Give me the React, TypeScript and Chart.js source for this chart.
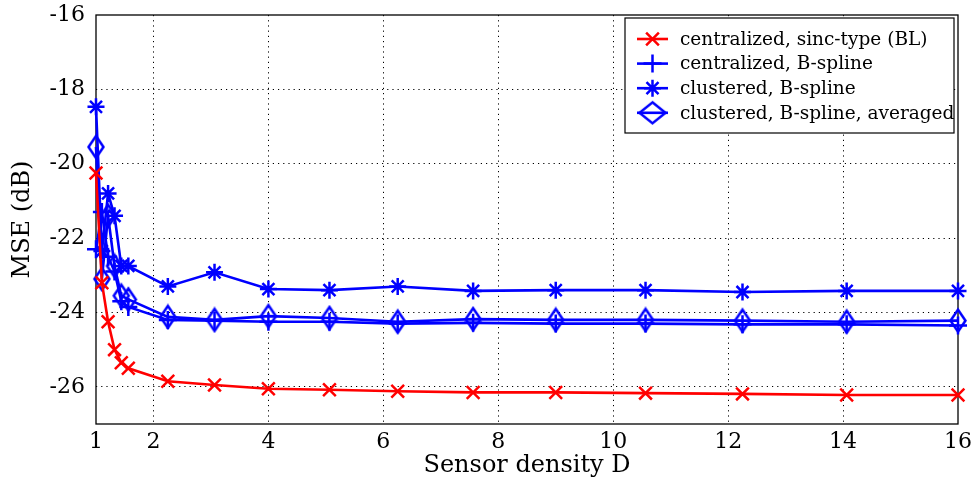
import React, { useEffect, useRef } from 'react';
import { Chart, registerables } from 'chart.js';
import { drawPoint } from 'chart.js/helpers';

Chart.register(...registerables);

// Sensor density D (squares of 1, 1.05, 1.1, ... , 4)
const densities = [1, 1.1025, 1.21, 1.3225, 1.44, 1.5625, 2.25, 3.0625, 4, 5.0625, 6.25, 7.5625, 9, 10.5625, 12.25, 14.0625, 16];

// MSE in dB for each reconstruction scheme
const sincCentral = [-20.25, -23.2, -24.25, -25.0, -25.35, -25.5, -25.85, -25.95, -26.05, -26.08, -26.12, -26.15, -26.15, -26.17, -26.19, -26.22, -26.22];
const bsplineCentral = [-22.3, -21.3, -22.5, -22.9, -23.7, -23.85, -24.2, -24.22, -24.25, -24.25, -24.3, -24.28, -24.3, -24.3, -24.32, -24.32, -24.35];
const bsplineCluster = [-18.47, -22.35, -20.8, -21.4, -22.75, -22.75, -23.3, -22.92, -23.37, -23.4, -23.3, -23.42, -23.4, -23.4, -23.45, -23.42, -23.42];
const bsplineClusterAvg = [-19.55, -23.1, -21.4, -22.75, -23.55, -23.65, -24.12, -24.2, -24.1, -24.15, -24.25, -24.18, -24.2, -24.2, -24.22, -24.25, -24.22];

const seriesLabels = [
  'centralized, sinc-type (BL)',
  'centralized, B-spline',
  'clustered, B-spline',
  'clustered, B-spline, averaged',
];

const xTicks = [1, 2, 4, 6, 8, 10, 12, 14, 16];
const yTicks = [-26, -24, -22, -20, -18, -16];

const RED = '#ff0000';
const BLUE = '#0000ff';
const SERIF = "'DejaVu Serif', serif";

function makeDiamond(w: number, h: number, color: string, lw: number): HTMLCanvasElement {
  const c = document.createElement('canvas');
  c.width = Math.ceil(w + lw * 2);
  c.height = Math.ceil(h + lw * 2);
  const g = c.getContext('2d')!;
  const cx = c.width / 2;
  const cy = c.height / 2;
  g.strokeStyle = color;
  g.lineWidth = lw;
  g.lineJoin = 'miter';
  g.beginPath();
  g.moveTo(cx, cy - h / 2);
  g.lineTo(cx + w / 2, cy);
  g.lineTo(cx, cy + h / 2);
  g.lineTo(cx - w / 2, cy);
  g.closePath();
  g.stroke();
  return c;
}

export default function App() {
  const canvasRef = useRef<HTMLCanvasElement | null>(null);

  useEffect(() => {
    const canvas = canvasRef.current;
    if (!canvas) return;

    const plotDiamond = makeDiamond(15, 22, BLUE, 2.5);
    const keyDiamond = makeDiamond(26, 21, BLUE, 2.5);

    const toPoints = (ys: number[]) => densities.map((x, i) => ({ x, y: ys[i] }));

    const frameAndKey = {
      id: 'frameAndKey',
      beforeDatasetsDraw(chart: any) {
        const { ctx, chartArea } = chart;
        const { left, right, top, bottom } = chartArea;
        ctx.save();
        ctx.strokeStyle = '#000';
        ctx.lineWidth = 1.3;
        ctx.setLineDash([]);
        ctx.strokeRect(left, top, right - left, bottom - top);
        ctx.restore();
      },
      afterDraw(chart: any) {
        const { ctx, chartArea } = chart;
        const { right, top } = chartArea;
        ctx.save();
        // key box
        const bx = right - 333;
        const by = top + 3;
        const bw = 329;
        const bh = 115;
        ctx.fillStyle = '#fff';
        ctx.fillRect(bx, by, bw, bh);
        ctx.strokeStyle = '#000';
        ctx.lineWidth = 1.2;
        ctx.strokeRect(bx, by, bw, bh);

        ctx.font = `18.5px ${SERIF}`;
        ctx.textBaseline = 'middle';
        ctx.textAlign = 'left';
        chart.data.datasets.forEach((ds: any, i: number) => {
          const rowY = by + 21 + i * 24.6;
          const x0 = bx + 12;
          const x1 = x0 + 31;
          ctx.strokeStyle = ds.borderColor;
          ctx.lineWidth = ds.borderWidth;
          ctx.beginPath();
          ctx.moveTo(x0, rowY);
          ctx.lineTo(x1, rowY);
          ctx.stroke();
          const mx = (x0 + x1) / 2;
          if (ds.pointStyle instanceof HTMLCanvasElement) {
            ctx.drawImage(keyDiamond, mx - keyDiamond.width / 2, rowY - keyDiamond.height / 2);
          } else {
            ctx.strokeStyle = ds.pointBorderColor;
            ctx.lineWidth = ds.pointBorderWidth;
            drawPoint(ctx, { pointStyle: ds.pointStyle, radius: ds.pointRadius, rotation: 0, borderWidth: ds.pointBorderWidth }, mx, rowY);
          }
          ctx.fillStyle = '#000';
          ctx.fillText(ds.label, x0 + 43, rowY + 1);
        });
        ctx.restore();
      },
    };

    const mk = (label: string, ys: number[], color: string, style: any, radius: number) => ({
      label,
      data: toPoints(ys),
      borderColor: color,
      backgroundColor: color,
      borderWidth: 2.6,
      pointStyle: style,
      pointRadius: radius,
      pointBorderColor: color,
      pointBackgroundColor: 'transparent',
      pointBorderWidth: 2.5,
      tension: 0,
      fill: false,
      clip: false as any,
    });

    const gridColor = (edgeValues: number[]) => (c: any) =>
      c.tick && edgeValues.includes(c.tick.value) ? 'rgba(0,0,0,0)' : '#000';

    const chart = new Chart(canvas, {
      type: 'line',
      data: {
        datasets: [
          mk(seriesLabels[0], sincCentral, RED, 'crossRot', 9),
          mk(seriesLabels[1], bsplineCentral, BLUE, 'cross', 9),
          mk(seriesLabels[2], bsplineCluster, BLUE, 'star', 8.5),
          mk(seriesLabels[3], bsplineClusterAvg, BLUE, plotDiamond, 9),
        ],
      },
      options: {
        responsive: false,
        animation: false,
        devicePixelRatio: 1,
        layout: { padding: { top: 15, right: 19, left: 0, bottom: 0 } },
        plugins: {
          legend: { display: false },
          tooltip: { enabled: false },
        },
        scales: {
          x: {
            type: 'linear',
            min: 1,
            max: 16,
            afterBuildTicks: (s: any) => {
              s.ticks = xTicks.map((v) => ({ value: v }));
            },
            afterFit: (s: any) => {
              s.height = 68;
              s.paddingLeft = 0;
              s.paddingRight = 0;
            },
            ticks: {
              color: '#000',
              font: { family: SERIF, size: 22 },
              padding: 5,
              maxRotation: 0,
              autoSkip: false,
              callback: (v: any) => String(v),
            },
            grid: { color: gridColor([1, 16]), lineWidth: 1, drawTicks: false },
            border: { display: false, dash: [1.2, 4] },
            title: {
              display: true,
              text: 'Sensor density D',
              color: '#000',
              font: { family: SERIF, size: 24 },
              padding: 12,
            },
          },
          y: {
            type: 'linear',
            min: -27,
            max: -16,
            afterBuildTicks: (s: any) => {
              s.ticks = yTicks.map((v) => ({ value: v }));
            },
            afterFit: (s: any) => {
              s.width = 96;
              s.paddingTop = 0;
              s.paddingBottom = 0;
            },
            ticks: {
              color: '#000',
              font: { family: SERIF, size: 22 },
              padding: 11,
              callback: (v: any) => String(v),
            },
            grid: { color: gridColor([-16]), lineWidth: 1, drawTicks: false },
            border: { display: false, dash: [1.2, 4] },
            title: {
              display: true,
              text: 'MSE (dB)',
              color: '#000',
              font: { family: SERIF, size: 24 },
              padding: 8,
            },
          },
        },
      },
      plugins: [frameAndKey],
    });

    return () => chart.destroy();
  }, []);

  return (
    <div style={{ position: 'absolute', left: 0, top: 0, width: 977, height: 492, background: '#fff' }}>
      <canvas ref={canvasRef} width={977} height={492} style={{ display: 'block' }} />
    </div>
  );
}
